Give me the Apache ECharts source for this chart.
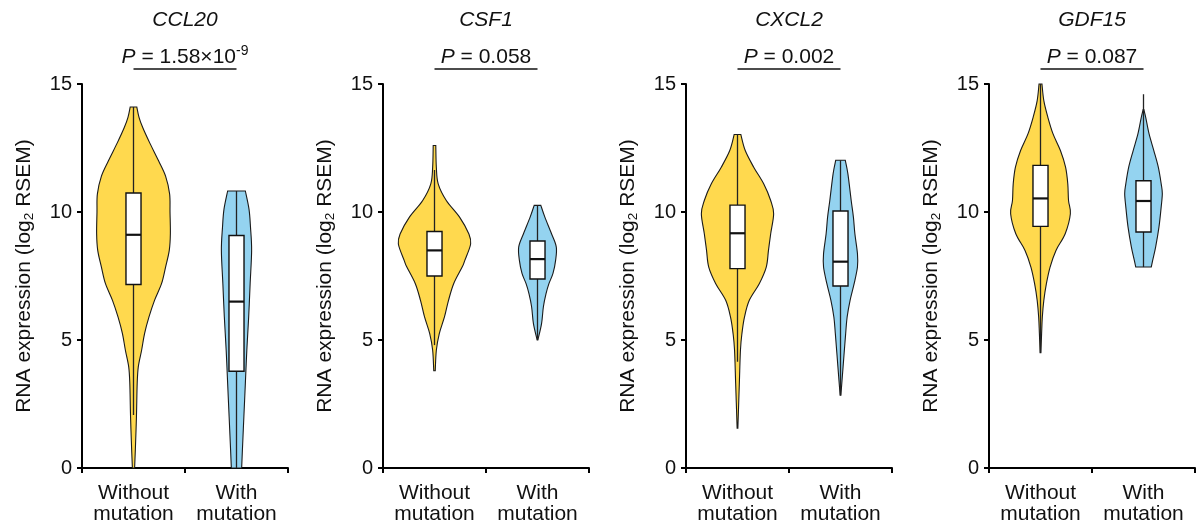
<!DOCTYPE html>
<html><head><meta charset="utf-8">
<script src="https://cdn.jsdelivr.net/npm/echarts@6/dist/echarts.min.js"></script>
<style>html,body{margin:0;padding:0;background:#fff}#c{width:1203px;height:532px}</style>
</head><body><div id="c"></div>
<script>
// ---------- data ----------
const genes = ['CCL20', 'CSF1', 'CXCL2', 'GDF15'];
const categories = ['Without\nmutation', 'With\nmutation'];
const yMin = 0, yMax = 15, yInterval = 5;
const pMain = ['1.58×10', '0.058', '0.002', '0.087'];
const pExp  = ['-9', '', '', ''];

// violin profiles: [expression value, relative density]
const ccl20Without = [[0,0.03],[0.7,0.05],[2.0,0.08],[3.3,0.10],[3.95,0.13],[4.6,0.22],[5.25,0.30],[5.9,0.42],[6.55,0.57],[7.2,0.76],[7.85,0.87],[8.5,0.97],[9.15,1.0],[10.0,0.99],[10.7,0.98],[11.4,0.87],[12.0,0.68],[12.7,0.44],[13.3,0.25],[13.7,0.15],[14.1,0.09]];
const ccl20With    = [[0,0.14],[0.7,0.16],[2.0,0.20],[3.3,0.24],[4.6,0.28],[5.9,0.33],[7.2,0.37],[8.5,0.41],[9.4,0.38],[10.1,0.34],[10.82,0.24]];
const csf1Without  = [[3.8,0.02],[4.6,0.05],[5.25,0.13],[5.9,0.27],[6.55,0.38],[7.2,0.52],[7.85,0.75],[8.1,0.82],[8.75,0.98],[9.15,0.93],[9.8,0.68],[10.45,0.32],[11.1,0.10],[11.75,0.05],[12.6,0.035]];
const csf1With     = [[5.0,0.01],[5.64,0.11],[6.3,0.16],[6.8,0.23],[7.2,0.31],[7.6,0.42],[8.1,0.49],[8.63,0.51],[9.15,0.38],[9.8,0.20],[10.26,0.09]];
const cxcl2Without = [[1.55,0.01],[3.3,0.05],[4.6,0.08],[5.25,0.12],[5.9,0.19],[6.55,0.32],[7.2,0.59],[7.85,0.78],[8.5,0.84],[9.15,0.90],[9.93,0.98],[10.45,0.90],[11.1,0.71],[11.75,0.44],[12.4,0.21],[13.03,0.09]];
const cxcl2With    = [[2.84,0.01],[3.95,0.07],[5.25,0.14],[5.9,0.18],[6.55,0.26],[7.2,0.37],[7.85,0.46],[8.37,0.46],[9.15,0.39],[9.8,0.35],[10.45,0.29],[11.5,0.20],[12.02,0.13]];
const gdf15Without = [[4.5,0.01],[5.25,0.03],[5.9,0.05],[6.55,0.09],[7.2,0.16],[7.85,0.26],[8.5,0.42],[9.15,0.67],[9.93,0.81],[10.45,0.76],[11.1,0.74],[11.75,0.68],[12.4,0.54],[13.05,0.34],[13.7,0.20],[14.35,0.09],[15.0,0.04]];
const gdf15With    = [[7.85,0.21],[8.12,0.25],[8.64,0.33],[9.42,0.42],[10.2,0.48],[10.72,0.51],[11.1,0.48],[11.76,0.40],[12.4,0.28],[13.06,0.15],[13.7,0.06],[14.0,0.01]];

// box statistics: [lower whisker, Q1, median, Q3, upper whisker]
const ccl20WithoutBox = [2.07, 7.17, 9.11, 10.74, 14.1];
const ccl20WithBox    = [0, 3.78, 6.5, 9.08, 10.82];
const csf1WithoutBox  = [4.8, 7.5, 8.5, 9.24, 11.64];
const csf1WithBox     = [5.0, 7.38, 8.16, 8.87, 10.26];
const cxcl2WithoutBox = [4.15, 7.79, 9.17, 10.27, 13.03];
const cxcl2WithBox    = [2.84, 7.11, 8.06, 10.04, 12.02];
const gdf15WithoutBox = [4.5, 9.44, 10.53, 11.82, 15.0];
const gdf15WithBox    = [7.85, 9.22, 10.43, 11.22, 14.6];

// ---------- assembly ----------
const profiles = [[ccl20Without, ccl20With],[csf1Without, csf1With],[cxcl2Without, cxcl2With],[gdf15Without, gdf15With]];
const boxes = [[ccl20WithoutBox, ccl20WithBox],[csf1WithoutBox, csf1WithBox],[cxcl2WithoutBox, cxcl2WithBox],[gdf15WithoutBox, gdf15WithBox]];
const fills = ['#FFD94E', '#94D3F0'];
const FONT = 'Liberation Sans, Arial, Helvetica, sans-serif';
const TXT = '#111';
const gridLefts = [82, 383, 686, 989];

// smooth open curve through points (Catmull-Rom -> cubic Bezier), continuing an existing path
function curveThrough(pts, cx, side) {
  let d = '';
  const n = pts.length;
  for (let i = 0; i < n - 1; i++) {
    const p0 = pts[Math.max(i - 1, 0)], p1 = pts[i], p2 = pts[i + 1], p3 = pts[Math.min(i + 2, n - 1)];
    let c1x = p1[0] + (p2[0] - p0[0]) / 6, c1y = p1[1] + (p2[1] - p0[1]) / 6;
    let c2x = p2[0] - (p3[0] - p1[0]) / 6, c2y = p2[1] - (p3[1] - p1[1]) / 6;
    if (side > 0) { c1x = Math.max(c1x, cx); c2x = Math.max(c2x, cx); }
    else { c1x = Math.min(c1x, cx); c2x = Math.min(c2x, cx); }
    d += ' C' + c1x.toFixed(2) + ',' + c1y.toFixed(2) + ' ' + c2x.toFixed(2) + ',' + c2y.toFixed(2) + ' ' + p2[0].toFixed(2) + ',' + p2[1].toFixed(2);
  }
  return d;
}

function violinRender(p) {
  return function (params, api) {
    const c = api.value(0);
    const prof = profiles[p][c], bx = boxes[p][c];
    const band = api.size([1, 0])[0];
    const cx = api.coord([c, 0])[0];
    const maxHW = band * 0.358;
    const right = [], left = [];
    prof.forEach(function (d) {
      const y = api.coord([c, d[0]])[1];
      right.push([cx + d[1] * maxHW, y]);
      left.push([cx - d[1] * maxHW, y]);
    });
    const leftDown = left.slice().reverse();
    let path = 'M' + right[0][0].toFixed(2) + ',' + right[0][1].toFixed(2);
    path += curveThrough(right, cx, 1);
    path += ' L' + leftDown[0][0].toFixed(2) + ',' + leftDown[0][1].toFixed(2);
    path += curveThrough(leftDown, cx, -1);
    path += ' Z';
    const yv = function (v) { return api.coord([c, v])[1]; };
    const bw = band * 0.073;
    return {
      type: 'group',
      children: [
        { type: 'path', shape: { pathData: path },
          style: { fill: fills[c], stroke: '#1a1a1a', lineWidth: 1.1 } },
        { type: 'line', shape: { x1: cx, y1: yv(bx[0]), x2: cx, y2: yv(bx[4]) },
          style: { stroke: '#222', lineWidth: 1.3 } },
        { type: 'rect', shape: { x: cx - bw, y: yv(bx[3]), width: 2 * bw, height: yv(bx[1]) - yv(bx[3]) },
          style: { fill: '#fff', stroke: '#111', lineWidth: 1.4 } },
        { type: 'line', shape: { x1: cx - bw, y1: yv(bx[2]), x2: cx + bw, y2: yv(bx[2]) },
          style: { stroke: '#111', lineWidth: 2.2 } }
      ]
    };
  };
}

function headerRender(p) {
  return function (params, api) {
    const x0 = api.coord([0, yMax])[0];
    const x1 = api.coord([1, yMax])[0];
    const yTop = api.coord([0, yMax])[1];
    const lineY = yTop - 15;
    const mid = (x0 + x1) / 2;
    const ptxt = '{i|P} = ' + pMain[p] + (pExp[p] ? '{s|' + pExp[p] + '}' : '');
    return {
      type: 'group',
      children: [
        { type: 'line', shape: { x1: x0, y1: lineY, x2: x1, y2: lineY },
          style: { stroke: '#111', lineWidth: 1.4 } },
        { type: 'text', x: mid, y: lineY - 12,
          style: { text: ptxt, align: 'center', verticalAlign: 'middle', fill: TXT,
            fontFamily: FONT, fontSize: 21,
            rich: {
              i: { fontStyle: 'italic', fontSize: 21, fontFamily: FONT, fill: TXT, lineHeight: 26 },
              s: { fontSize: 14, fontFamily: FONT, fill: TXT, verticalAlign: 'top', lineHeight: 26 }
            } } },
        { type: 'text', x: mid, y: lineY - 49,
          style: { text: genes[p], align: 'center', verticalAlign: 'middle', fill: TXT,
            fontFamily: FONT, fontSize: 21, fontStyle: 'italic' } }
      ]
    };
  };
}

const grid = [], xAxis = [], yAxis = [], series = [];
genes.forEach(function (g, p) {
  grid.push({ left: gridLefts[p], top: 84, width: 206, height: 384, containLabel: false });
  xAxis.push({
    type: 'category', gridIndex: p, data: categories, boundaryGap: true,
    axisLine: { show: true, lineStyle: { color: '#000', width: 2 } },
    axisTick: { show: true, length: 5, lineStyle: { color: '#000', width: 2 } },
    axisLabel: { fontSize: 21, color: TXT, fontFamily: FONT, lineHeight: 21.5, margin: 14, interval: 0 },
    splitLine: { show: false }
  });
  yAxis.push({
    type: 'value', gridIndex: p, min: yMin, max: yMax, interval: yInterval,
    name: 'RNA expression (log{sub|2} RSEM)', nameLocation: 'middle', nameGap: 46, nameRotate: 90,
    nameMoveOverlap: false,
    nameTextStyle: { fontSize: 21, color: TXT, fontFamily: FONT, lineHeight: 24,
      rich: { sub: { fontSize: 13.5, fontFamily: FONT, color: TXT, verticalAlign: 'bottom', lineHeight: 24 } } },
    axisLine: { show: true, lineStyle: { color: '#000', width: 2 } },
    axisTick: { show: true, length: 5, lineStyle: { color: '#000', width: 2 } },
    axisLabel: { fontSize: 20, color: TXT, fontFamily: FONT, margin: 10 },
    splitLine: { show: false }
  });
  series.push({
    type: 'custom', xAxisIndex: p, yAxisIndex: p, renderItem: violinRender(p),
    data: [[0], [1]], silent: true, clip: false
  });
  series.push({
    type: 'custom', xAxisIndex: p, yAxisIndex: p, renderItem: headerRender(p),
    data: [[0]], silent: true, clip: false
  });
});

const chart = echarts.init(document.getElementById('c'), null, { renderer: 'canvas' });
chart.setOption({ animation: false, backgroundColor: '#fff', grid: grid, xAxis: xAxis, yAxis: yAxis, series: series });
</script></body></html>
